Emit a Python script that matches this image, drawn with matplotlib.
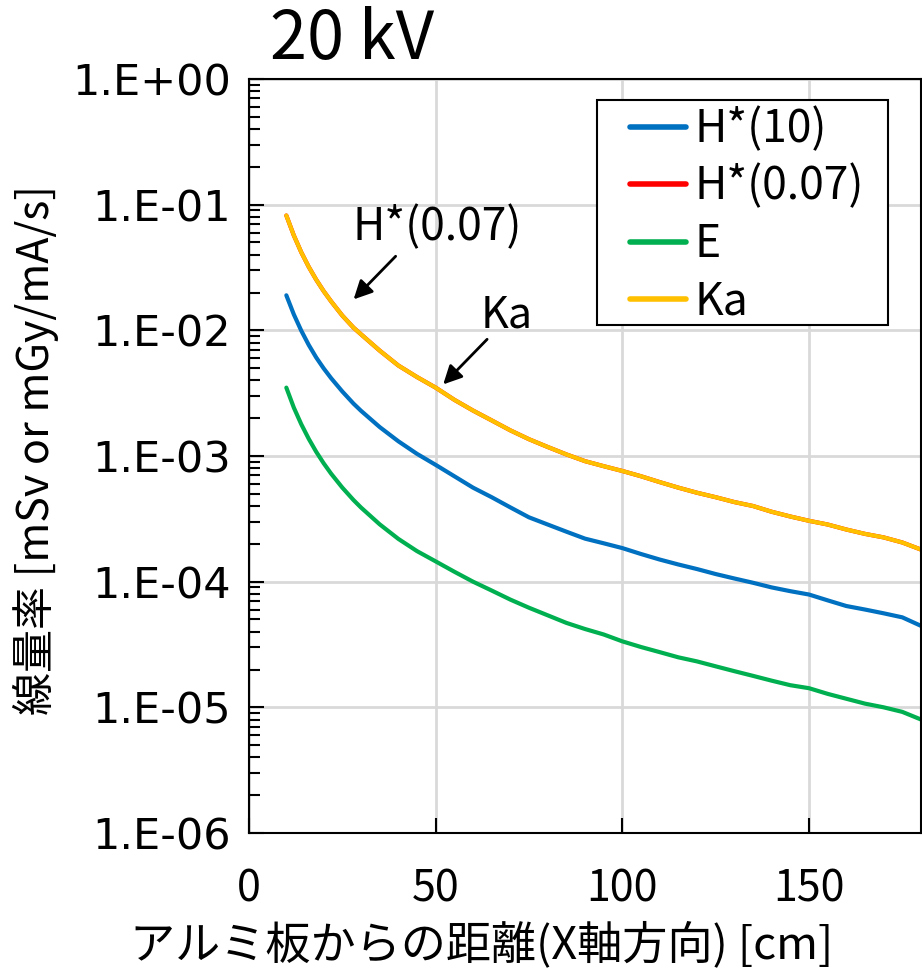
import matplotlib
matplotlib.use("Agg")
import matplotlib.pyplot as plt
from matplotlib.patches import Rectangle
from matplotlib.ticker import LogLocator, NullFormatter

plt.rcParams['font.family'] = ['Noto Sans CJK JP', 'DejaVu Sans']

# distance from the aluminium plate [cm]
dist = [10, 12, 14, 16, 18, 20, 22, 25, 28, 30, 35, 40, 45, 50, 55, 60, 65, 70, 75, 80,
        85, 90, 95, 100, 105, 110, 115, 120, 125, 130, 135, 140, 145, 150, 155, 160,
        165, 170, 175, 180]

h10 = [0.0190, 0.0134, 0.00994, 0.00765, 0.00608, 0.00498, 0.00416, 0.00326, 0.00261,
       0.00229, 0.00170, 0.00131, 0.00104, 0.00085, 0.00069, 0.00056, 0.00047, 0.00039,
       0.000325, 0.000285, 0.00025, 0.00022, 0.000202, 0.000185, 0.000166, 0.000150,
       0.000137, 0.000126, 0.000115, 0.000106, 0.000098, 0.000090, 0.000084, 0.000079,
       0.000071, 0.000064, 0.000060, 0.000056, 0.000052, 0.0000445]

h007 = [0.082, 0.057, 0.0418, 0.0320, 0.0253, 0.0205, 0.0170, 0.0131, 0.0105, 0.0093,
        0.0069, 0.00525, 0.00425, 0.0035, 0.0028, 0.0023, 0.00192, 0.0016, 0.00136,
        0.00118, 0.00103, 0.00091, 0.00083, 0.00076, 0.00069, 0.00062, 0.00056,
        0.00051, 0.00047, 0.00043, 0.00040, 0.00036, 0.00033, 0.000305, 0.000285,
        0.00026, 0.00024, 0.000225, 0.000205, 0.00018]

eff = [0.0035, 0.00243, 0.00179, 0.00137, 0.00108, 0.000875, 0.000723, 0.00056, 0.000446,
       0.000389, 0.000286, 0.000219, 0.000175, 0.000145, 0.000120, 0.000100, 0.000085,
       0.000072, 0.000062, 0.000054, 0.000047, 0.000042, 0.000038, 0.0000335, 0.0000302,
       0.0000275, 0.0000250, 0.0000232, 0.0000212, 0.0000194, 0.0000178, 0.0000163,
       0.0000150, 0.0000142, 0.0000128, 0.0000117, 0.0000107, 0.0000100, 0.0000092,
       0.0000080]

ka = [0.082, 0.057, 0.0418, 0.0320, 0.0253, 0.0205, 0.0170, 0.0131, 0.0105, 0.0093,
      0.0069, 0.00525, 0.00425, 0.0035, 0.0028, 0.0023, 0.00192, 0.0016, 0.00136,
      0.00118, 0.00103, 0.00091, 0.00083, 0.00076, 0.00069, 0.00062, 0.00056,
      0.00051, 0.00047, 0.00043, 0.00040, 0.00036, 0.00033, 0.000305, 0.000285,
      0.00026, 0.00024, 0.000225, 0.000205, 0.00018]

series_names = ['H*(10)', 'H*(0.07)', 'E', 'Ka']
series_colors = ['#0070C0', '#FF0000', '#00B050', '#FFC000']

ytick_vals = [1e0, 1e-1, 1e-2, 1e-3, 1e-4, 1e-5, 1e-6]
ytick_labels = ['1.E+00', '1.E-01', '1.E-02', '1.E-03', '1.E-04', '1.E-05', '1.E-06']
xtick_vals = [0, 50, 100, 150]

fig = plt.figure(figsize=(9.22, 9.69), dpi=100)
ax = fig.add_axes([249 / 922, 1 - 833 / 969, 672 / 922, (833 - 79) / 969])

for vals, name, col in zip([h10, h007, eff, ka], series_names, series_colors):
    ax.plot(dist, vals, color=col, lw=3, label=name, solid_capstyle='round')

ax.set_yscale('log')
ax.set_ylim(1e-6, 1e0)
ax.set_xlim(0, 180)

ax.set_yticks(ytick_vals, ytick_labels, fontsize=31, fontfamily='DejaVu Sans')
ax.yaxis.set_minor_locator(LogLocator(base=10, subs=range(2, 10), numticks=20))
ax.yaxis.set_minor_formatter(NullFormatter())
ax.set_xticks(xtick_vals, [str(v) for v in xtick_vals], fontsize=31)

ax.tick_params(axis='y', which='major', direction='in', length=11, width=1.5, pad=13)
ax.tick_params(axis='y', which='minor', direction='in', length=8, width=1.5)
ax.tick_params(axis='x', which='major', direction='in', length=11, width=1.5, pad=25)

ax.grid(True, which='major', color='#d9d9d9', lw=2)
ax.set_axisbelow(True)
for sp in ax.spines.values():
    sp.set_linewidth(1.5)
    sp.set_color('black')

# legend box drawn separately (Excel style, extra room on the left)
ax.add_patch(Rectangle((0.518, 0.674), 0.433, 0.298, transform=ax.transAxes,
                       facecolor='white', edgecolor='black', lw=1.5, zorder=4, clip_on=False))
leg = ax.legend(loc='upper left', bbox_to_anchor=(0.567, 0.964), borderaxespad=0,
                fontsize=32, frameon=False, handlelength=1.25, handletextpad=0.2,
                labelspacing=0.26, borderpad=0)
leg.set_zorder(5)
for ln in leg.get_lines():
    ln.set_linewidth(4)

# arrows with labels
ax.annotate('', xy=(27.5, 0.0170), xytext=(39.8, 0.0403),
            arrowprops=dict(arrowstyle='-|>', lw=2, color='black', mutation_scale=28))
ax.text(50.5, 0.0662, 'H*(0.07)', fontsize=32, ha='center', va='center')
ax.annotate('', xy=(51.5, 0.00358), xytext=(64.3, 0.0088),
            arrowprops=dict(arrowstyle='-|>', lw=2, color='black', mutation_scale=28))
ax.text(69.1, 0.0132, 'Ka', fontsize=31, ha='center', va='center')

fig.text(270 / 922, 1 - 40 / 969, '20 kV', fontsize=48, ha='left', va='center')
fig.text(482 / 922, 1 - 945 / 969, 'アルミ板からの距離(X軸方向) [cm]', fontsize=32.5,
         ha='center', va='center')
fig.text(36 / 922, 1 - 450 / 969, '線量率 [mSv or mGy/mA/s]', fontsize=31,
         ha='center', va='center', rotation=90)

fig.savefig('out.png', dpi=100)
